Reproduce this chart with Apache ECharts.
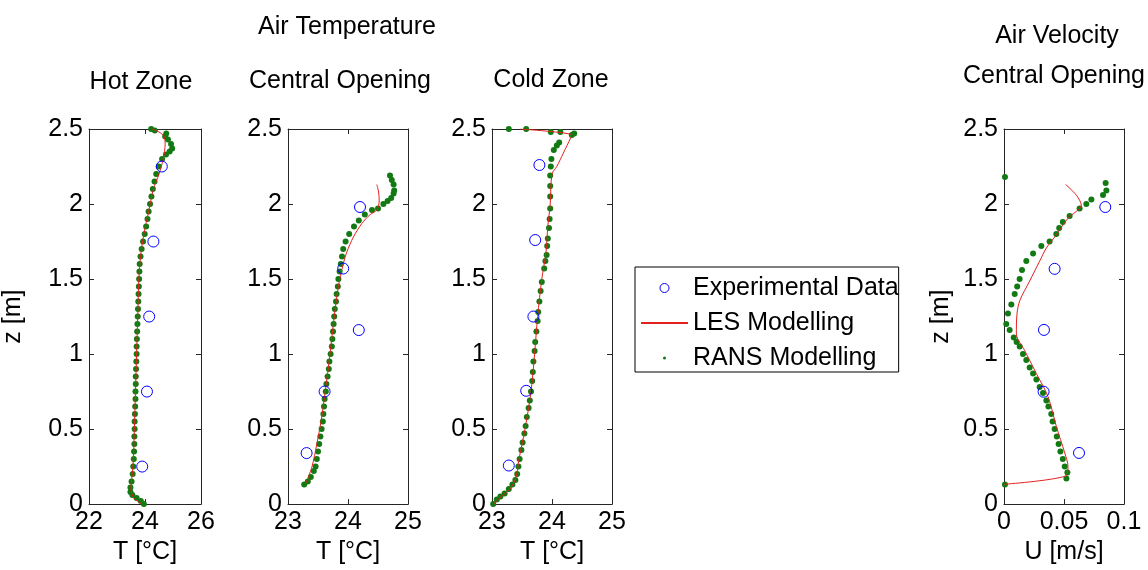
<!DOCTYPE html>
<html>
<head>
<meta charset="utf-8">
<title>Air Temperature / Air Velocity</title>
<script src="https://cdn.jsdelivr.net/npm/echarts@6.0.0/dist/echarts.min.js"></script>
<style>
  html, body { margin: 0; padding: 0; background: #fff; }
  #chart { width: 1148px; height: 570px; }
</style>
</head>
<body>
<div id="chart"></div>
<script>
// z axis (height) shared by all panels: [min, max, step]
const zAxisRange = [0, 2.5, 0.5]

// x axis ranges: [min, max, step]
const hotRange = [22, 26, 2]
const centralRange = [23, 25, 1]
const coldRange = [23, 25, 1]
const velRange = [0, 0.1, 0.05]

// Hot Zone - T [°C] vs z [m]
const hotExp = [[24.6, 2.25], [24.3, 1.75], [24.15, 1.25], [24.07, 0.75], [23.9, 0.25]]
const hotLes = [
  [23.9, 0.0], [23.6, 0.04], [23.5, 0.1], [23.57, 0.25], [23.62, 0.5], [23.66, 0.75],
  [23.7, 1.0], [23.74, 1.25], [23.78, 1.5], [23.84, 1.65], [23.96, 1.8], [24.13, 1.95],
  [24.3, 2.1], [24.5, 2.2], [24.65, 2.3], [24.72, 2.4], [24.68, 2.45], [24.5, 2.48], [24.25, 2.5]
]
const hotRans = [
  [23.96, 0.0], [23.85, 0.02], [23.7, 0.04], [23.55, 0.06], [23.48, 0.08], [23.48, 0.11],
  [23.52, 0.15], [23.56, 0.2], [23.58, 0.25], [23.6, 0.3], [23.61, 0.35], [23.62, 0.4],
  [23.62, 0.45], [23.63, 0.5], [23.63, 0.55], [23.64, 0.6], [23.65, 0.65], [23.66, 0.7],
  [23.66, 0.75], [23.67, 0.8], [23.67, 0.85], [23.68, 0.9], [23.69, 0.95], [23.7, 1.0],
  [23.7, 1.05], [23.71, 1.1], [23.72, 1.15], [23.73, 1.2], [23.74, 1.25], [23.75, 1.3],
  [23.76, 1.35], [23.77, 1.4], [23.78, 1.45], [23.79, 1.5], [23.8, 1.55], [23.81, 1.6],
  [23.84, 1.65], [23.88, 1.7], [23.93, 1.75], [23.99, 1.8], [24.04, 1.85], [24.09, 1.9],
  [24.13, 1.95], [24.18, 2.0], [24.23, 2.05], [24.28, 2.1], [24.34, 2.15], [24.4, 2.2],
  [24.49, 2.25], [24.61, 2.3], [24.75, 2.33], [24.88, 2.35], [24.97, 2.37], [24.93, 2.4],
  [24.82, 2.43], [24.72, 2.45], [24.76, 2.47], [24.35, 2.49], [24.22, 2.5]
]

// Central Opening - T [°C] vs z [m]
const centralExp = [[23.31, 0.34], [23.61, 0.75], [23.92, 1.57], [24.18, 1.16], [24.2, 1.98]]
const centralLes = [
  [23.3, 0.14], [23.4, 0.25], [23.48, 0.4], [23.55, 0.55], [23.62, 0.75], [23.7, 1.0],
  [23.77, 1.25], [23.84, 1.45], [23.92, 1.6], [23.98, 1.68], [24.09, 1.78], [24.23, 1.87],
  [24.37, 1.93], [24.48, 1.96], [24.52, 2.02], [24.51, 2.08], [24.48, 2.13]
]
const centralRans = [
  [23.27, 0.13], [23.33, 0.15], [23.38, 0.18], [23.43, 0.22], [23.46, 0.25], [23.48, 0.3],
  [23.5, 0.35], [23.52, 0.4], [23.54, 0.45], [23.56, 0.5], [23.58, 0.55], [23.59, 0.6],
  [23.6, 0.65], [23.61, 0.7], [23.63, 0.75], [23.64, 0.8], [23.66, 0.85], [23.68, 0.9],
  [23.69, 0.95], [23.71, 1.0], [23.73, 1.05], [23.74, 1.1], [23.75, 1.15], [23.76, 1.2],
  [23.77, 1.25], [23.78, 1.3], [23.8, 1.35], [23.81, 1.4], [23.83, 1.45], [23.84, 1.5],
  [23.86, 1.55], [23.88, 1.6], [23.9, 1.65], [23.92, 1.7], [23.96, 1.75], [24.02, 1.8],
  [24.1, 1.85], [24.18, 1.89], [24.28, 1.93], [24.4, 1.96], [24.5, 1.97], [24.59, 2.0],
  [24.66, 2.02], [24.72, 2.04], [24.76, 2.07], [24.77, 2.09], [24.76, 2.13], [24.73, 2.16],
  [24.7, 2.19]
]

// Cold Zone - T [°C] vs z [m]
const coldExp = [[23.79, 2.26], [23.72, 1.76], [23.69, 1.25], [23.57, 0.755], [23.28, 0.257]]
const coldLes = [
  [23.03, 0.0], [23.15, 0.05], [23.3, 0.1], [23.4, 0.18], [23.45, 0.3], [23.55, 0.5],
  [23.65, 0.75], [23.71, 1.0], [23.76, 1.25], [23.83, 1.5], [23.9, 1.68], [23.93, 1.85],
  [23.97, 2.0], [24.0, 2.2], [24.08, 2.25], [24.19, 2.34], [24.31, 2.44], [24.33, 2.46],
  [23.47, 2.5]
]
const coldRans = [
  [23.02, 0.0], [23.08, 0.03], [23.14, 0.05], [23.21, 0.07], [23.28, 0.1], [23.34, 0.13],
  [23.39, 0.16], [23.42, 0.2], [23.44, 0.25], [23.46, 0.3], [23.49, 0.36], [23.51, 0.41],
  [23.54, 0.47], [23.56, 0.52], [23.58, 0.58], [23.61, 0.64], [23.63, 0.69], [23.65, 0.75],
  [23.67, 0.82], [23.68, 0.88], [23.69, 0.95], [23.71, 1.02], [23.72, 1.08], [23.74, 1.15],
  [23.76, 1.22], [23.77, 1.28], [23.79, 1.35], [23.81, 1.42], [23.83, 1.48], [23.87, 1.57],
  [23.89, 1.62], [23.91, 1.66], [23.92, 1.72], [23.93, 1.77], [23.95, 1.84], [23.96, 1.9],
  [23.97, 1.97], [23.97, 2.05], [23.97, 2.12], [23.97, 2.19], [23.98, 2.25], [23.99, 2.3],
  [24.03, 2.36], [24.08, 2.39], [24.12, 2.41], [24.37, 2.47], [24.33, 2.46], [24.14, 2.48],
  [23.98, 2.48], [23.57, 2.5], [23.28, 2.5]
]

// Air Velocity, Central Opening - U [m/s] vs z [m]
const velExp = [[0.0844, 1.98], [0.0422, 1.568], [0.0333, 1.161], [0.033, 0.749], [0.0625, 0.341]]
const velLes = [
  [0.0, 0.132], [0.0514, 0.187], [0.0533, 0.253], [0.0506, 0.341], [0.0436, 0.518],
  [0.0367, 0.716], [0.027, 0.87], [0.0172, 1.024], [0.0103, 1.134], [0.0108, 1.266],
  [0.0131, 1.355], [0.0214, 1.487], [0.0297, 1.619], [0.0353, 1.707], [0.0436, 1.795],
  [0.0533, 1.905], [0.0644, 1.993], [0.0603, 2.059], [0.0514, 2.13]
]
const velRans = [
  [0.0008, 0.13], [0.0008, 2.18],
  [0.052, 0.17], [0.0528, 0.21], [0.0506, 0.25], [0.049, 0.3], [0.047, 0.35], [0.0455, 0.4],
  [0.044, 0.45], [0.0422, 0.5], [0.0405, 0.55], [0.0394, 0.6], [0.037, 0.65], [0.0353, 0.69],
  [0.0325, 0.74], [0.0297, 0.78], [0.027, 0.83], [0.0242, 0.87], [0.0214, 0.91], [0.0186, 0.96],
  [0.0158, 1.0], [0.0131, 1.05], [0.0105, 1.08], [0.0081, 1.11], [0.0047, 1.16], [0.0019, 1.2],
  [0.0033, 1.27], [0.0061, 1.33], [0.0089, 1.4], [0.011, 1.45], [0.013, 1.5], [0.015, 1.56],
  [0.0186, 1.62], [0.0242, 1.67], [0.0311, 1.72], [0.038, 1.75], [0.0436, 1.8], [0.046, 1.84],
  [0.049, 1.88], [0.0547, 1.92], [0.063, 1.97], [0.0686, 2.0], [0.0728, 2.03], [0.0825, 2.06],
  [0.0853, 2.09], [0.0847, 2.14]
]

const FONT = 'Liberation Sans, Arial, Helvetica, sans-serif'
const FONT_SIZE = 25
const AXIS_COLOR = '#262626'
const EXP_COLOR = '#0000ff'
const LES_COLOR = '#e3211f'
const RANS_COLOR = '#127a12'

// panel boxes in pixels
const panelLefts = [81, 288, 492, 1004]
const panelTop = 129
const panelWidth = 120
const panelHeight = 379

const panels = [
  { range: hotRange, exp: hotExp, les: hotLes, rans: hotRans, xName: 'T [°C]', yName: 'z [m]', yGap: 63 },
  { range: centralRange, exp: centralExp, les: centralLes, rans: centralRans, xName: 'T [°C]' },
  { range: coldRange, exp: coldExp, les: coldLes, rans: coldRans, xName: 'T [°C]' },
  { range: velRange, exp: velExp, les: velLes, rans: velRans, xName: 'U [m/s]', yName: 'z [m]', yGap: 50 }
]

const grid = []
const xAxis = []
const yAxis = []
const series = []

const tickStyle = { inside: true, length: 5, lineStyle: { color: AXIS_COLOR } }
const lineStyle = { lineStyle: { color: AXIS_COLOR, width: 1 }, onZero: false }
const labelStyle = { color: '#000', fontSize: FONT_SIZE, fontFamily: FONT }

panels.forEach((p, i) => {
  grid.push({ left: panelLefts[i], top: panelTop, width: panelWidth, height: panelHeight })

  // bottom axis with labels, top axis with ticks only
  xAxis.push({
    type: 'value', gridIndex: i, position: 'bottom',
    min: p.range[0], max: p.range[1], interval: p.range[2],
    axisLine: lineStyle, axisTick: tickStyle, splitLine: { show: false },
    axisLabel: { ...labelStyle, margin: 6, showMinLabel: true, showMaxLabel: true },
    name: p.xName, nameLocation: 'middle', nameGap: 34,
    nameTextStyle: { ...labelStyle }
  })
  xAxis.push({
    type: 'value', gridIndex: i, position: 'top',
    min: p.range[0], max: p.range[1], interval: p.range[2],
    axisLine: lineStyle, axisTick: tickStyle, splitLine: { show: false },
    axisLabel: { show: false }
  })

  yAxis.push({
    type: 'value', gridIndex: i, position: 'left',
    min: zAxisRange[0], max: zAxisRange[1], interval: zAxisRange[2],
    axisLine: lineStyle, axisTick: tickStyle, splitLine: { show: false },
    axisLabel: { ...labelStyle, margin: 6 },
    name: p.yName || '', nameLocation: 'middle', nameGap: p.yGap || 0, nameRotate: 90,
    nameTextStyle: { ...labelStyle }
  })
  yAxis.push({
    type: 'value', gridIndex: i, position: 'right',
    min: zAxisRange[0], max: zAxisRange[1], interval: zAxisRange[2],
    axisLine: lineStyle, axisTick: tickStyle, splitLine: { show: false },
    axisLabel: { show: false }
  })

  series.push({
    name: 'RANS Modelling', type: 'scatter', xAxisIndex: i * 2, yAxisIndex: i * 2,
    data: p.rans, symbol: 'circle', symbolSize: 6,
    itemStyle: { color: RANS_COLOR, opacity: 1 }, z: 2
  })
  series.push({
    name: 'LES Modelling', type: 'line', xAxisIndex: i * 2, yAxisIndex: i * 2,
    data: p.les, showSymbol: false, symbol: 'none', smooth: 0.3,
    lineStyle: { color: LES_COLOR, width: 1 }, itemStyle: { color: LES_COLOR }, z: 3
  })
  series.push({
    name: 'Experimental Data', type: 'scatter', xAxisIndex: i * 2, yAxisIndex: i * 2,
    data: p.exp, symbol: 'circle', symbolSize: 11,
    itemStyle: { color: 'rgba(255,255,255,0)', borderColor: EXP_COLOR, borderWidth: 1, opacity: 1 }, z: 4
  })
})

// headings
const headings = [
  ['Air Temperature', 347, 27],
  ['Hot Zone', 141, 82],
  ['Central Opening', 340, 81],
  ['Cold Zone', 551, 80],
  ['Air Velocity', 1057, 36],
  ['Central Opening', 1054, 76]
]

const option = {
  animation: false,
  backgroundColor: '#fff',
  grid: grid,
  xAxis: xAxis,
  yAxis: yAxis,
  legend: {
    left: 635, top: 267,
    orient: 'vertical',
    data: [
      { name: 'Experimental Data', itemStyle: { borderWidth: 1 } },
      { name: 'LES Modelling', itemStyle: { color: 'rgba(0,0,0,0)', borderWidth: 0 } },
      { name: 'RANS Modelling', icon: 'path://M0,0M10,10M3.3,5a1.7,1.7 0 1,0 3.4,0a1.7,1.7 0 1,0 -3.4,0z' }
    ],
    itemWidth: 47, itemHeight: 9, itemGap: 7,
    padding: [7, 0, 0, 5],
    borderColor: '#000', borderWidth: 1, borderRadius: 0,
    textStyle: { color: '#000', fontSize: FONT_SIZE, fontFamily: FONT, lineHeight: 28 }
  },
  graphic: headings.map(h => ({
    type: 'text', x: h[1], y: h[2],
    style: { text: h[0], fill: '#000', font: FONT_SIZE + 'px ' + FONT, align: 'center', verticalAlign: 'middle' }
  })),
  series: series
}

const chart = echarts.init(document.getElementById('chart'))
chart.setOption(option)
</script>
</body>
</html>
